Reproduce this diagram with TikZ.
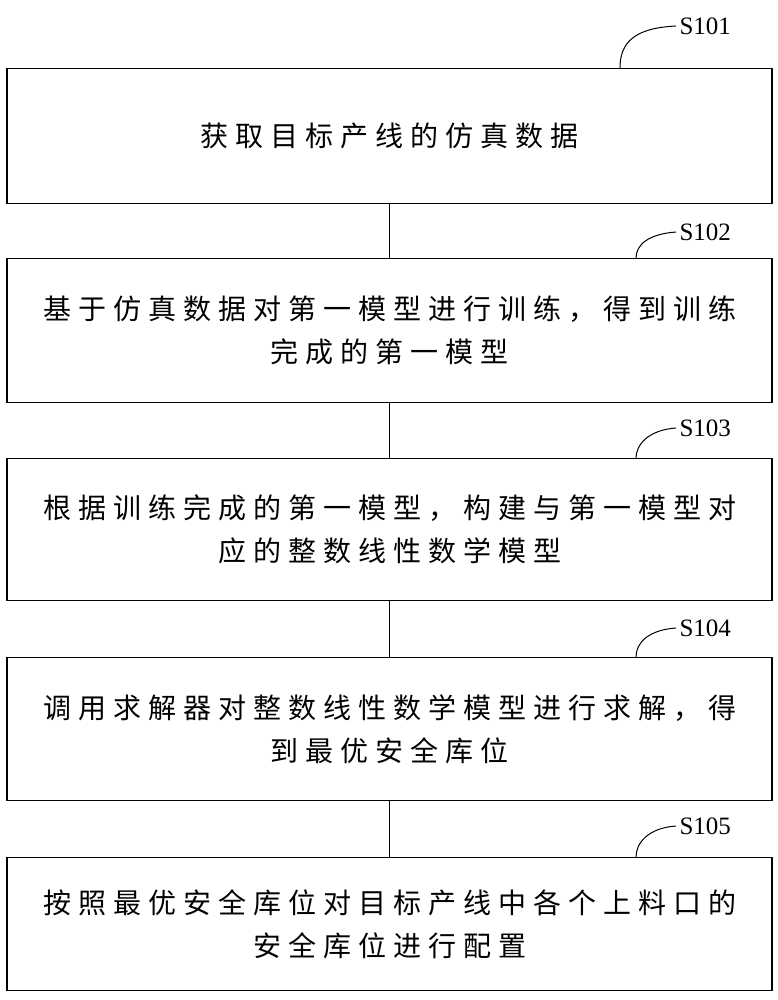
\documentclass[tikz,border=0pt]{standalone}
\usepackage{fontspec}
\setmainfont{Liberation Serif}
\newfontfamily\cjk[LetterSpace=25]{Noto Sans CJK SC}
\begin{document}
\begin{tikzpicture}[x=1pt,y=-1pt,
  stepbox/.style={draw,line width=1.2pt,minimum width=765pt,anchor=north,align=center,font=\cjk\fontsize{28}{43}\selectfont,inner sep=0pt},
  lab/.style={font=\fontsize{25}{25}\selectfont,anchor=west},
  lead/.style={line width=1pt}]
\useasboundingbox (0,0) rectangle (778,1000);
\node[stepbox,minimum height=135pt] (b1) at (389.5,68) {获取目标产线的仿真数据};
\node[stepbox,minimum height=144pt] (b2) at (389.5,258) {基于仿真数据对第一模型进行训练，得到训练\\完成的第一模型};
\node[stepbox,minimum height=142pt] (b3) at (389.5,458) {根据训练完成的第一模型，构建与第一模型对\\应的整数线性数学模型};
\node[stepbox,minimum height=143pt] (b4) at (389.5,657) {调用求解器对整数线性数学模型进行求解，得\\到最优安全库位};
\node[stepbox,minimum height=133pt] (b5) at (389.5,857) {按照最优安全库位对目标产线中各个上料口的\\安全库位进行配置};
\foreach \a/\b in {b1/b2,b2/b3,b3/b4,b4/b5} \draw[line width=1pt] (\a.south) -- (\b.north);
\node[lab] (l1) at (676,26) {S101};
\node[lab] (l2) at (676,232) {S102};
\node[lab] (l3) at (676,428) {S103};
\node[lab] (l4) at (676,628) {S104};
\node[lab] (l5) at (676,826) {S105};
\draw[lead] (620,68) .. controls (620,42) and (635,28) .. (l1.west);
\draw[lead] (636,258) .. controls (636,245) and (648,234) .. (l2.west);
\draw[lead] (636,458) .. controls (636,445) and (648,430) .. (l3.west);
\draw[lead] (636,657) .. controls (636,643) and (648,630) .. (l4.west);
\draw[lead] (636,857) .. controls (636,843) and (648,828) .. (l5.west);
\end{tikzpicture}
\end{document}
